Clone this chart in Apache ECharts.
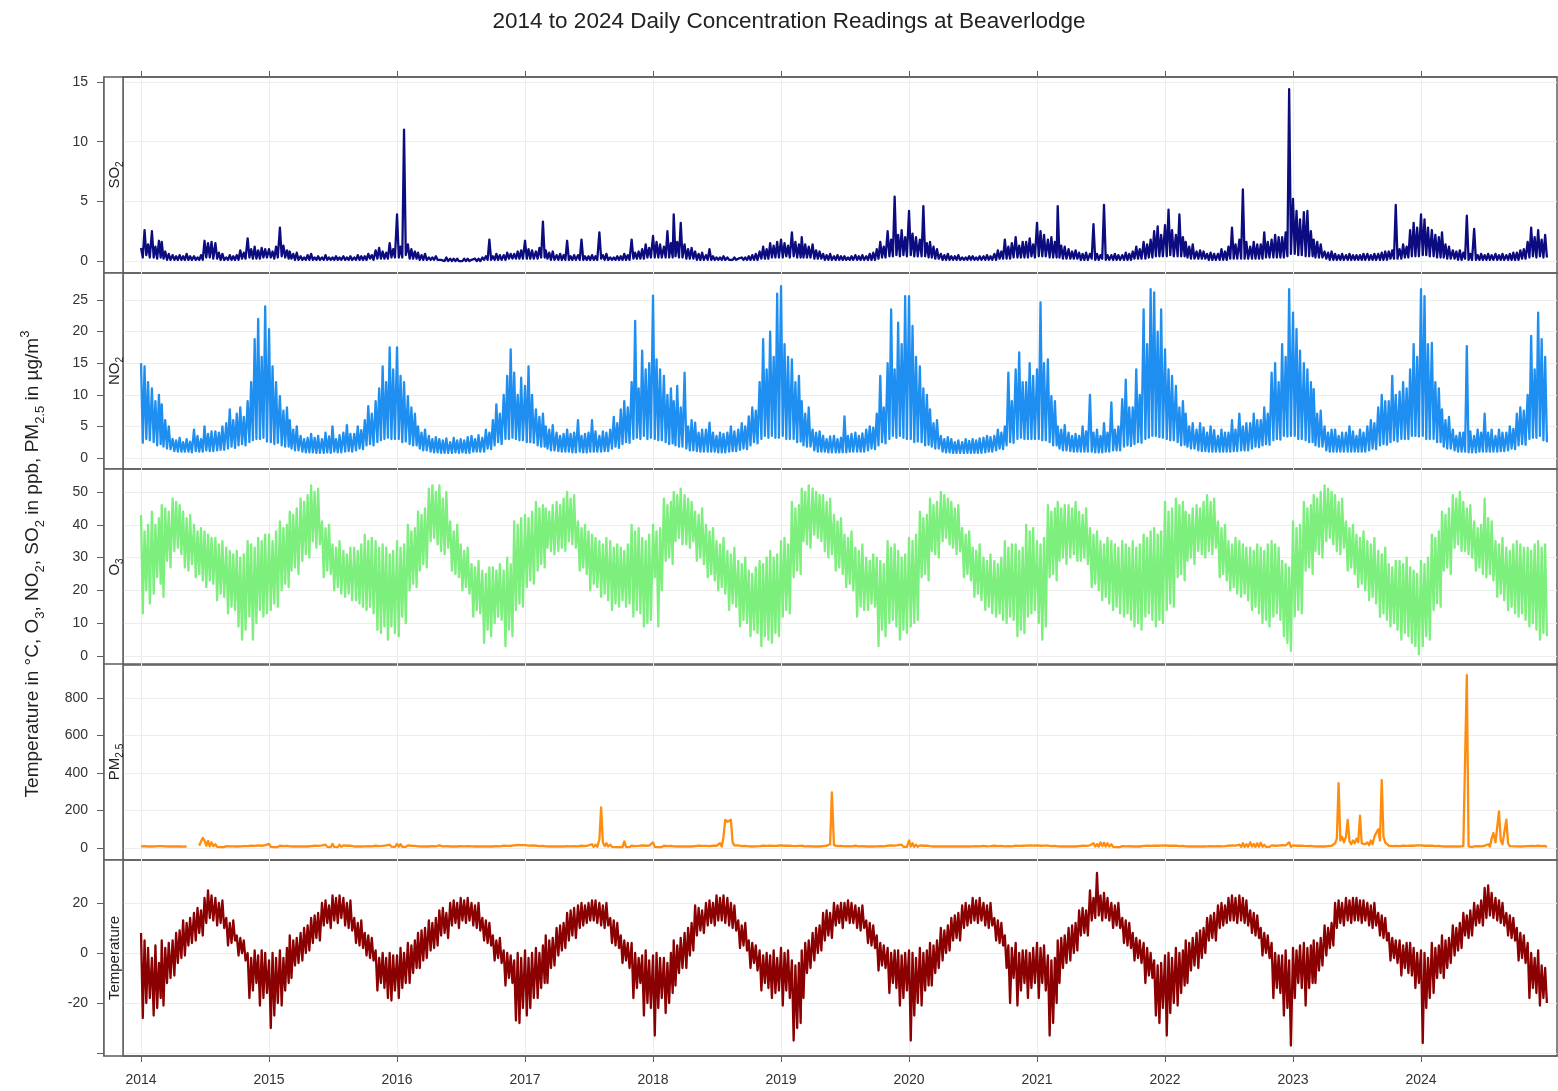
<!DOCTYPE html>
<html>
<head>
<meta charset="utf-8">
<title>Beaverlodge daily readings</title>
<script src="https://cdn.jsdelivr.net/npm/echarts@6/dist/echarts.min.js"></script>
<style>
  html, body { margin: 0; padding: 0; background: #ffffff; }
  #chart { width: 1558px; height: 1091px; }
</style>
</head>
<body>
<div id="chart"></div>
<script>
// Reading dates: six readings per month, 2014 through 2024
const years = [2014, 2015, 2016, 2017, 2018, 2019, 2020, 2021, 2022, 2023, 2024];
const readingDays = [1, 6, 11, 16, 21, 26];
const yearTickLabels = [2014, 2015, 2016, 2017, 2018, 2019, 2020, 2021, 2022, 2023, 2024];

// SO2 (ppb): one row per year, six readings per month
const so2 = [
  1.1,0.3,2.6,0.5,1.4,0.3, 2.5,0.3,1.2,0.2,1.7,0.3, 1.6,0.2,0.8,0.1,0.6,0.1, 0.5,0.1,0.4,0.1,0.5,0.1, 0.4,0.1,0.6,0.1,0.4,0.1, 0.4,0.1,0.3,0.1,0.5,0.1, 1.7,0.3,1.5,0.3,1.6,0.2, 1.5,0.2,0.7,0.1,0.6,0.1, 0.3,0.1,0.5,0.1,0.4,0.1, 0.5,0.1,0.9,0.2,0.7,0.2, 1.9,0.3,1.0,0.2,1.2,0.2, 0.9,0.2,1.1,0.3,1.0,0.3,
  1.0,0.3,0.8,0.2,1.2,0.3, 2.8,0.4,1.3,0.3,0.9,0.2, 0.8,0.2,0.6,0.1,0.7,0.1, 0.4,0.1,0.3,0.1,0.5,0.1, 0.6,0.1,0.3,0.1,0.4,0.1, 0.3,0.1,0.5,0.1,0.3,0.1, 0.3,0.1,0.4,0.1,0.3,0.1, 0.4,0.1,0.3,0.1,0.4,0.1, 0.3,0.1,0.5,0.1,0.4,0.1, 0.4,0.1,0.6,0.2,0.5,0.1, 0.9,0.2,1.1,0.2,0.8,0.2, 0.7,0.2,1.5,0.3,1.0,0.3,
  3.9,0.3,1.2,0.3,11.0,0.5, 1.4,0.2,1.0,0.2,0.8,0.2, 0.7,0.1,0.5,0.1,0.6,0.1, 0.3,0.1,0.3,0.1,0.4,0.1, 0.2,0.1,0.2,0.0,0.3,0.0, 0.2,0.0,0.2,0.0,0.2,0.0, 0.1,0.0,0.2,0.0,0.2,0.0, 0.1,0.0,0.2,0.0,0.2,0.0, 0.3,0.1,0.4,0.1,1.8,0.1, 0.4,0.1,0.6,0.1,0.5,0.1, 0.5,0.1,0.7,0.2,0.6,0.2, 0.6,0.2,0.8,0.2,0.9,0.2,
  1.7,0.2,1.0,0.2,0.9,0.2, 0.8,0.2,1.1,0.3,3.3,0.3, 0.9,0.2,0.7,0.1,0.8,0.1, 0.5,0.1,0.6,0.1,0.5,0.1, 1.7,0.1,0.4,0.1,0.5,0.1, 0.5,0.1,1.8,0.1,0.4,0.1, 0.4,0.1,0.5,0.1,0.4,0.1, 2.4,0.2,0.5,0.1,0.6,0.1, 0.3,0.1,0.3,0.1,0.4,0.1, 0.4,0.1,0.6,0.1,0.5,0.1, 1.8,0.2,0.7,0.2,0.8,0.2, 1.0,0.2,1.4,0.3,1.1,0.3,
  2.1,0.3,1.6,0.3,1.4,0.3, 1.2,0.3,2.5,0.3,1.5,0.3, 3.9,0.4,1.6,0.3,3.2,0.3, 1.4,0.2,1.0,0.2,1.1,0.2, 0.8,0.1,0.6,0.1,0.7,0.1, 0.5,0.1,1.0,0.1,0.4,0.1, 0.3,0.1,0.3,0.1,0.4,0.1, 0.3,0.1,0.2,0.1,0.3,0.1, 0.2,0.1,0.3,0.1,0.3,0.1, 0.4,0.1,0.5,0.1,0.6,0.1, 0.8,0.2,1.2,0.2,1.0,0.2, 1.5,0.3,1.3,0.3,1.6,0.3,
  1.8,0.3,1.5,0.4,1.3,0.3, 2.4,0.4,1.6,0.3,1.4,0.3, 2.0,0.3,1.4,0.3,1.2,0.3, 1.4,0.2,0.9,0.2,0.8,0.2, 0.6,0.1,0.5,0.1,0.6,0.1, 0.4,0.1,0.5,0.1,0.4,0.1, 0.4,0.1,0.3,0.1,0.4,0.1, 0.5,0.1,0.4,0.1,0.5,0.1, 0.4,0.1,0.6,0.1,0.7,0.1, 1.0,0.2,1.6,0.3,1.2,0.3, 2.5,0.4,1.8,0.4,5.4,0.5, 2.2,0.4,2.6,0.5,2.0,0.4,
  4.2,0.5,2.3,0.4,2.0,0.4, 1.8,0.4,4.6,0.4,1.5,0.3, 1.6,0.3,1.2,0.2,1.0,0.2, 0.6,0.1,0.5,0.1,0.6,0.1, 0.4,0.1,0.4,0.1,0.5,0.1, 0.3,0.1,0.3,0.1,0.4,0.1, 0.4,0.1,0.3,0.1,0.4,0.1, 0.4,0.1,0.5,0.1,0.4,0.1, 0.6,0.1,0.9,0.2,0.8,0.2, 1.8,0.2,1.2,0.2,1.5,0.3, 2.0,0.3,1.3,0.3,1.6,0.3, 1.6,0.3,1.9,0.4,1.4,0.3,
  3.2,0.4,2.5,0.4,2.2,0.4, 1.8,0.3,2.0,0.3,1.6,0.3, 4.6,0.3,1.3,0.2,1.2,0.2, 1.0,0.2,0.8,0.2,0.9,0.2, 0.7,0.1,0.6,0.1,0.7,0.1, 0.6,0.2,3.1,0.1,0.6,0.1, 0.5,0.2,4.7,0.1,0.5,0.1, 0.5,0.1,0.6,0.1,0.5,0.1, 0.5,0.1,0.7,0.1,0.6,0.1, 0.8,0.2,1.2,0.2,1.0,0.2, 1.6,0.2,1.4,0.3,1.8,0.3, 2.5,0.4,2.9,0.4,2.2,0.4,
  3.0,0.4,4.3,0.5,2.6,0.4, 2.2,0.4,3.9,0.4,2.0,0.4, 1.6,0.3,1.2,0.2,1.4,0.2, 0.8,0.2,0.9,0.2,0.8,0.2, 0.6,0.1,0.7,0.1,0.6,0.1, 0.6,0.1,1.0,0.1,0.8,0.1, 1.2,0.2,2.8,0.2,1.4,0.2, 1.8,0.2,6.0,0.2,1.6,0.2, 1.2,0.2,1.6,0.2,1.4,0.2, 1.4,0.2,2.4,0.3,1.6,0.3, 1.8,0.3,2.2,0.3,2.0,0.3, 2.0,0.3,2.4,0.4,14.4,0.6,
  5.2,0.6,4.2,0.5,3.5,0.5, 4.1,0.4,4.2,0.4,2.5,0.4, 1.8,0.3,1.6,0.3,1.4,0.3, 0.8,0.2,0.7,0.1,0.8,0.1, 0.6,0.1,0.5,0.1,0.6,0.1, 0.5,0.1,0.6,0.1,0.5,0.1, 0.5,0.1,0.5,0.1,0.6,0.1, 0.6,0.1,0.5,0.1,0.6,0.1, 0.6,0.1,0.7,0.1,0.8,0.1, 0.8,0.2,0.9,0.2,4.7,0.2, 1.0,0.2,1.4,0.3,1.2,0.3, 2.6,0.4,3.2,0.4,2.8,0.4,
  3.9,0.5,3.5,0.5,2.8,0.4, 2.6,0.4,2.2,0.3,2.0,0.3, 2.4,0.3,1.4,0.2,1.2,0.2, 0.9,0.2,0.8,0.1,0.9,0.1, 0.7,0.2,3.8,0.1,0.6,0.1, 2.7,0.1,0.5,0.1,0.6,0.1, 0.5,0.1,0.6,0.1,0.5,0.1, 0.6,0.1,0.5,0.1,0.6,0.1, 0.5,0.1,0.6,0.1,0.7,0.1, 0.7,0.1,0.9,0.2,1.0,0.2, 1.6,0.3,2.8,0.4,2.0,0.3, 2.6,0.4,1.8,0.3,2.2,0.3
];

// NO2 (ppb)
const no2 = [
  15.0,2.4,14.5,3.0,12.0,2.8, 11.0,2.5,9.0,2.0,10.0,2.2, 8.5,1.8,6.0,1.5,5.0,1.4, 3.0,1.1,2.8,1.0,3.2,1.0, 2.5,1.0,3.0,1.0,2.6,0.9, 4.5,1.1,3.5,1.0,3.0,1.0, 5.0,1.2,3.8,1.1,4.2,1.1, 4.2,1.2,4.0,1.3,5.0,1.3, 5.5,1.5,7.7,1.8,6.0,1.6, 7.0,2.0,8.0,2.2,6.5,2.0, 9.0,2.5,12.0,2.8,18.8,3.0, 22.0,3.0,16.0,3.2,24.0,2.6,
  20.4,2.5,14.5,2.2,12.0,2.4, 9.8,2.0,7.5,1.8,8.0,1.8, 6.0,1.5,4.5,1.2,5.0,1.2, 3.5,1.0,3.0,0.9,3.2,0.9, 3.8,0.9,3.2,0.8,3.5,0.8, 3.0,0.8,4.0,0.9,3.4,0.8, 5.0,1.0,3.0,0.9,3.6,0.9, 4.0,1.0,5.2,1.1,3.8,1.0, 3.8,1.2,5.0,1.5,4.4,1.4, 6.0,2.0,8.2,2.2,7.0,2.0, 9.0,2.5,11.0,2.8,14.5,3.0, 12.0,3.2,17.5,3.0,14.0,3.0,
  17.5,3.0,13.0,2.5,12.0,2.6, 9.8,2.2,8.0,2.0,7.0,2.0, 5.0,1.5,4.0,1.2,4.5,1.2, 3.5,1.0,3.0,0.9,3.3,0.9, 3.0,0.8,2.8,0.8,3.1,0.8, 2.5,0.8,3.2,0.9,2.8,0.8, 3.0,0.9,2.8,0.8,3.3,0.8, 3.5,1.0,3.0,1.0,3.6,1.0, 3.2,1.0,4.5,1.5,4.0,1.4, 6.0,2.0,8.5,2.5,7.0,2.2, 10.0,3.0,13.0,3.0,17.2,3.2, 13.5,3.0,10.0,2.8,12.7,2.8,
  11.4,2.5,14.5,2.5,10.0,2.4, 7.7,2.0,6.5,1.8,7.0,1.8, 5.0,1.5,4.5,1.2,5.2,1.2, 4.0,1.1,3.5,1.0,3.8,1.0, 4.5,1.0,3.8,0.9,4.0,0.9, 6.0,1.0,3.5,0.9,3.8,0.9, 4.0,1.0,6.0,1.0,4.2,1.0, 3.5,1.0,4.2,1.1,4.0,1.1, 4.5,1.5,6.5,1.8,5.5,1.6, 7.7,2.2,9.0,2.5,8.0,2.4, 12.0,3.0,21.7,3.2,11.0,3.0, 17.0,3.5,14.0,3.0,15.0,3.2,
  25.7,3.0,15.6,2.8,14.0,2.8, 13.0,2.5,10.0,2.2,11.0,2.3, 9.0,2.0,11.4,1.8,8.0,1.8, 13.5,1.5,5.0,1.2,6.0,1.2, 5.6,1.1,4.0,1.0,4.5,1.0, 4.5,1.0,5.6,1.0,4.0,1.0, 3.5,0.9,4.0,0.9,3.8,0.9, 4.0,1.0,5.0,1.1,4.2,1.1, 4.5,1.3,5.5,1.5,5.0,1.4, 6.6,2.0,8.0,2.5,7.5,2.3, 12.0,3.0,18.8,3.5,14.0,3.2, 20.0,3.5,16.0,3.2,26.0,3.2,
  27.2,3.5,18.0,3.0,16.0,3.0, 15.6,3.0,12.0,2.5,13.0,2.6, 9.0,2.0,7.0,1.8,8.0,1.8, 4.5,1.2,4.0,1.0,4.2,1.0, 3.5,1.0,3.0,0.9,3.4,0.9, 3.5,0.9,3.0,0.9,3.2,0.9, 6.6,0.9,3.5,1.0,3.8,1.0, 4.0,1.0,3.5,1.0,3.9,1.0, 4.5,1.2,5.0,1.5,4.8,1.4, 7.0,2.0,13.0,2.5,8.0,2.3, 15.0,3.0,23.5,3.5,14.0,3.2, 21.4,3.5,18.0,3.2,25.6,3.0,
  25.6,3.0,20.9,2.5,16.0,2.6, 14.5,2.5,11.0,2.0,10.0,2.1, 7.7,1.8,5.5,1.5,6.0,1.5, 3.5,1.0,3.0,0.9,3.3,0.9, 3.0,0.8,2.5,0.8,2.8,0.8, 2.5,0.8,3.0,0.8,2.7,0.8, 3.0,0.8,2.8,0.8,3.1,0.8, 3.2,0.9,3.5,1.0,3.3,1.0, 3.5,1.2,4.5,1.5,4.0,1.4, 5.0,2.0,13.5,2.5,9.0,2.4, 14.0,3.0,16.7,3.2,12.0,3.0, 12.0,3.0,15.0,3.0,13.0,3.0,
  14.0,3.0,24.6,2.8,15.0,2.8, 15.6,2.5,9.8,2.0,9.0,2.0, 5.0,1.5,4.5,1.2,5.2,1.2, 4.0,1.1,3.5,1.0,3.8,1.0, 3.5,1.0,5.0,1.0,4.2,1.0, 10.0,1.0,4.0,0.9,4.5,0.9, 3.5,0.9,5.5,1.0,4.0,1.0, 8.8,1.2,4.5,1.2,5.0,1.2, 9.3,1.8,12.4,2.0,8.0,1.9, 8.0,2.2,14.0,2.5,10.0,2.4, 23.5,3.0,18.0,3.2,26.7,3.5, 26.2,3.5,20.0,3.3,23.5,3.2,
  17.2,3.0,14.0,2.8,13.0,2.8, 11.4,2.5,8.0,2.0,9.0,2.1, 7.0,1.8,5.0,1.5,5.5,1.5, 4.5,1.2,5.5,1.1,4.8,1.1, 4.0,1.0,5.0,1.0,4.4,1.0, 3.5,1.0,4.5,1.0,4.0,1.0, 4.0,1.0,6.0,1.1,4.5,1.1, 7.0,1.2,5.0,1.2,5.5,1.2, 5.5,1.5,7.0,1.8,6.0,1.7, 6.0,2.0,8.0,2.2,7.0,2.1, 13.5,2.8,15.0,3.0,12.0,2.9, 18.0,3.5,16.0,3.4,26.7,3.5,
  23.0,3.5,20.4,3.0,17.0,3.0, 15.0,2.8,14.0,2.5,12.0,2.5, 10.9,2.0,7.0,1.8,7.5,1.8, 5.0,1.2,4.0,1.0,4.5,1.0, 4.5,1.0,3.5,1.0,4.0,1.0, 4.0,1.0,5.0,1.0,4.2,1.0, 3.5,1.0,4.5,1.0,4.0,1.0, 5.0,1.2,6.0,1.5,5.5,1.4, 8.0,2.0,10.0,2.2,9.0,2.1, 9.0,2.5,13.0,2.8,10.0,2.6, 10.5,3.0,12.0,3.0,11.0,3.0, 14.0,3.5,18.0,3.5,16.0,3.4,
  26.7,3.5,25.6,3.0,18.0,3.0, 18.2,3.0,12.0,2.5,11.0,2.5, 7.7,1.8,6.0,1.5,6.5,1.5, 4.5,1.2,3.5,1.0,4.0,1.0, 4.0,1.0,17.7,0.9,4.2,0.9, 3.5,0.9,4.5,1.0,4.0,1.0, 7.0,1.0,4.0,1.0,4.5,1.0, 3.5,1.0,4.5,1.1,4.0,1.1, 4.0,1.2,5.0,1.5,4.6,1.4, 7.0,2.0,8.0,2.2,7.5,2.1, 10.0,3.0,19.3,3.2,14.0,3.2, 23.0,3.5,18.8,2.8,16.0,2.5
];

// O3 (ppb)
const o3 = [
  43,13,38,20,40,16, 44,19,40,24,42,22, 46,18,45,29,44,27, 48,32,47,33,46,31, 44,27,42,26,43,28, 40,24,38,25,39,23, 38,21,37,23,36,22, 36,17,34,19,35,18, 33,13,32,15,31,14, 32,9,30,5,31,8, 35,12,34,5,33,10, 36,14,35,12,37,13,
  37,14,35,16,38,15, 41,20,39,22,40,21, 44,26,43,27,45,25, 48,29,47,31,49,30, 52,35,50,33,51,34, 41,24,39,26,40,25, 34,20,33,21,35,19, 32,18,31,19,33,17, 33,17,32,16,34,15, 37,14,35,15,36,13, 35,8,33,7,34,9, 33,5,31,9,32,7,
  35,6,33,12,34,10, 40,20,38,22,39,21, 44,26,43,28,45,27, 51,35,52,36,50,34, 52,32,48,31,50,33, 41,26,38,25,40,24, 34,20,32,21,33,19, 28,12,27,14,29,13, 26,4,25,8,27,6, 27,10,26,12,28,11, 26,3,30,8,28,6, 41,14,40,16,42,15,
  43,21,42,23,44,22, 47,26,45,28,46,27, 45,33,44,32,46,31, 47,32,46,33,48,32, 50,35,48,34,49,33, 41,26,39,27,40,25, 38,20,37,22,36,21, 35,18,34,19,36,17, 35,14,33,16,34,15, 33,17,32,15,34,16, 40,12,38,14,39,13, 36,9,35,10,37,11,
  40,24,38,9,39,20, 48,29,46,30,47,28, 50,35,49,36,51,34, 49,34,48,33,47,35, 44,29,43,30,45,28, 40,24,38,25,39,23, 35,20,34,21,36,19, 32,14,31,16,33,15, 29,9,28,11,30,10, 26,6,25,8,27,7, 29,3,28,6,30,5, 32,4,30,7,31,6,
  35,12,36,14,34,13, 47,24,45,26,46,25, 51,35,50,34,52,33, 51,37,50,36,49,35, 49,32,47,30,48,31, 43,26,41,27,42,25, 37,21,36,22,38,20, 33,12,32,15,34,14, 30,14,29,16,31,15, 30,3,29,8,28,6, 35,10,33,11,34,9, 32,5,30,8,31,7,
  36,9,35,10,37,11, 44,24,42,25,43,23, 48,32,46,31,47,30, 50,35,49,36,48,34, 47,33,45,31,46,32, 39,24,37,25,38,23, 33,18,32,19,34,17, 30,14,29,15,31,13, 29,12,28,13,30,11, 35,10,33,12,34,11, 34,6,32,8,33,7, 40,12,38,13,39,14,
  35,10,34,5,36,9, 46,24,44,25,45,23, 47,29,45,30,46,28, 46,30,45,31,47,29, 44,29,43,30,45,28, 39,21,37,22,38,20, 35,17,34,18,36,16, 35,14,34,15,33,13, 35,12,34,13,33,11, 35,9,33,10,34,8, 37,12,36,13,38,11, 39,9,37,11,38,10,
  47,14,44,16,45,15, 48,24,46,25,47,23, 44,29,43,30,45,28, 46,32,45,31,47,30, 49,32,47,31,48,33, 41,24,39,25,40,23, 35,20,34,21,36,19, 35,18,34,19,33,17, 33,14,32,15,34,13, 33,10,32,11,34,9, 35,12,34,13,33,11, 29,6,28,4,27,1.5,
  41,12,39,14,40,13, 47,26,45,27,46,25, 49,32,48,31,50,30, 52,35,51,36,50,34, 49,32,47,31,48,33, 41,26,39,27,40,25, 37,21,36,22,38,20, 35,17,34,18,36,16, 32,12,31,13,33,11, 28,9,27,10,29,8, 29,5,28,7,30,6, 27,4,26,3,25,0.5,
  29,3,28,6,30,5, 37,14,36,16,38,15, 44,26,43,27,45,25, 49,33,48,34,50,32, 47,32,45,31,46,30, 41,26,39,27,40,25, 48,24,42,25,41,23, 35,18,34,19,36,17, 33,14,32,15,34,13, 35,12,34,13,33,11, 33,9,32,10,34,8, 35,5,33,7,34,6
];

// PM2.5 (µg/m³); null marks days without readings
const pm25 = [
  9,5,10,6,8,5, 8,4,9,5,10,5, 10,5,9,5,8,4, 8,4,9,5,8,4, 7,4,8,null,null,null, null,null,null,12,35,54, 40,12,38,9,30,10, 20,6,14,5,12,5, 10,5,9,4,9,5, 8,4,9,5,10,5, 10,5,12,6,11,5, 14,6,12,5,15,6,
  22,6,14,5,12,5, 12,5,10,4,11,5, 9,4,8,4,9,4, 8,3,9,4,8,4, 10,4,12,5,11,4, 14,5,18,6,15,5, 22,6,16,5,18,6, 14,5,12,4,13,5, 8,4,9,4,8,4, 9,4,10,5,9,4, 12,5,10,5,11,5, 14,6,18,7,15,6,
  22,7,20,6,16,6, 14,5,12,5,11,5, 9,4,8,4,9,4, 8,3,10,4,9,4, 14,4,9,4,10,4, 8,3,9,4,8,4, 10,4,9,4,10,4, 9,4,8,3,9,4, 8,3,9,4,8,4, 8,4,10,5,9,4, 12,5,11,5,12,5, 14,6,16,6,15,6,
  15,6,13,5,14,6, 12,5,10,4,11,5, 9,4,8,4,9,4, 8,3,9,4,8,4, 10,4,9,4,10,4, 9,4,12,5,10,4, 14,5,20,6,18,6, 45,216,30,10,25,8, 18,6,14,5,12,5, 12,5,35,6,14,5, 12,5,10,5,11,5, 14,6,12,5,13,5,
  30,6,14,5,13,5, 12,5,10,4,11,4, 9,4,8,4,9,4, 8,3,9,4,8,4, 10,4,12,5,11,4, 11,4,10,4,12,5, 12,5,25,8,60,150, 140,148,150,30,14,5, 14,5,10,4,11,4, 9,4,8,4,9,4, 10,5,12,5,11,5, 13,5,11,5,12,5,
  14,6,12,5,13,5, 11,5,10,4,11,4, 12,5,9,4,10,4, 8,4,9,4,8,4, 10,4,12,5,20,297, 15,5,10,4,11,4, 9,4,10,4,9,4, 12,5,9,4,10,4, 8,4,9,4,8,4, 9,4,10,5,9,4, 12,5,14,6,13,5, 15,6,18,6,16,6,
  40,8,25,6,18,6, 14,5,12,5,13,5, 10,4,8,4,9,4, 8,3,9,4,8,4, 9,4,8,3,9,4, 8,3,9,4,8,4, 9,4,10,4,9,4, 11,4,9,4,10,4, 12,5,10,4,11,4, 9,4,10,5,9,4, 12,5,11,5,12,5, 13,5,14,6,13,5,
  14,6,12,5,13,5, 13,5,10,4,11,4, 9,4,8,4,9,4, 8,3,9,4,8,4, 10,4,12,5,11,4, 14,5,25,8,20,7, 30,10,28,8,25,8, 20,6,14,5,15,5, 10,4,9,4,10,4, 8,4,9,4,8,4, 11,5,12,5,11,5, 13,5,12,5,13,5,
  14,6,12,5,13,5, 12,5,10,4,11,4, 9,4,8,4,9,4, 8,3,9,4,8,4, 9,4,10,4,9,4, 10,4,9,4,10,4, 12,5,14,5,13,5, 18,6,25,6,20,6, 30,8,22,6,25,7, 28,7,18,6,16,6, 14,5,12,5,13,5, 15,6,14,6,30,6,
  14,6,12,5,13,5, 11,5,10,4,11,4, 9,4,8,4,9,4, 8,4,10,5,12,6, 25,50,346,40,60,30, 60,150,35,20,40,25, 50,30,172,25,35,20, 30,15,40,20,60,80, 100,40,362,60,30,20, 12,6,10,5,11,5, 10,5,12,5,11,5, 13,5,12,5,14,6,
  14,6,12,5,13,5, 12,5,10,4,11,4, 9,4,8,4,9,4, 8,3,9,4,8,4, 10,4,921,8,9,4, 9,4,10,4,9,4, 12,5,20,8,50,80, 30,20,195,40,20,15, 151,25,10,5,9,4, 9,4,8,4,9,4, 10,5,11,5,10,5, 12,5,10,5,11,5
];

// Temperature (°C)
const temperature = [
  8,-26,5,-20,2,-18, -2,-25,3,-22,-4,-18, 5,-21,2,-12,4,-10, 5,-9,8,-4,9,-2, 13,-1,12,3,14,4, 16,5,18,8,17,7, 22,12,25,14,23,13, 22,11,20,12,21,10, 14,3,12,4,13,5, 7,-1,6,0,5,-3, 0,-18,-2,-15,1,-12, -1,-21,1,-18,0,-16,
  -3,-30,0,-25,-2,-20, 1,-21,-2,-15,2,-12, 7,-10,5,-5,6,-4, 8,-3,10,0,11,1, 14,4,15,6,16,5, 20,11,21,12,19,10, 23,13,22,12,23,14, 22,11,20,10,21,9, 14,4,12,3,13,2, 8,-1,7,-2,6,-3, 1,-15,-2,-12,0,-14, -2,-18,0,-19,-1,-15,
  -1,-18,2,-14,0,-12, 4,-12,3,-8,5,-6, 8,-6,9,-3,10,-2, 13,1,12,2,14,3, 17,7,18,8,16,6, 20,11,21,12,20,10, 22,13,21,12,22,13, 20,11,19,10,20,9, 14,5,13,4,12,3, 7,-3,5,-2,6,-4, 1,-13,0,-10,-1,-12, -3,-27,0,-28,-2,-22,
  1,-25,-2,-22,0,-18, 2,-18,0,-14,3,-12, 7,-12,5,-6,6,-5, 10,-1,11,1,12,2, 16,5,17,7,18,6, 19,10,20,11,19,12, 20,13,21,13,21,12, 20,11,19,10,20,11, 14,4,13,3,12,2, 7,-4,5,-3,4,-6, 4,-18,0,-14,-2,-12, -1,-25,1,-20,-3,-22,
  -1,-33,0,-22,-2,-18, -2,-24,-4,-20,0,-16, 5,-13,3,-8,6,-6, 8,-6,10,-1,12,1, 19,7,18,9,17,8, 20,11,21,12,20,11, 23,13,22,13,23,12, 22,11,20,10,19,9, 13,2,11,3,12,1, 5,-6,4,-4,3,-7, 1,-15,-1,-12,0,-14, -1,-18,1,-16,-2,-15,
  2,-21,0,-15,1,-18, -3,-35,-5,-30,-4,-28, 1,-18,4,-8,5,-6, 8,-3,10,0,11,1, 16,5,17,7,16,6, 20,11,19,12,20,10, 20,13,21,12,20,12, 19,10,18,9,19,10, 13,4,12,3,11,2, 7,-7,4,-5,3,-6, 2,-16,0,-12,1,-14, 1,-21,-1,-18,0,-15,
  1,-35,0,-25,-2,-20, 2,-21,0,-15,1,-13, 4,-13,3,-8,5,-6, 10,-3,9,0,11,1, 14,5,15,6,16,5, 19,10,20,11,19,12, 22,13,21,12,22,13, 20,11,19,10,20,11, 14,5,13,4,12,3, 7,-6,3,-20,2,-10, 4,-21,0,-15,1,-12, 1,-18,0,-14,2,-12,
  4,-18,2,-12,3,-15, -1,-33,-3,-28,-2,-20, 5,-12,6,-6,7,-4, 10,-3,11,0,12,1, 17,7,18,8,17,7, 25,13,22,14,32,15, 23,13,24,14,22,13, 20,10,19,11,20,10, 14,4,13,3,12,2, 8,-3,6,-2,5,-4, 4,-12,2,-9,0,-10, -3,-25,-5,-28,-4,-22,
  -1,-33,0,-24,-2,-20, 2,-21,0,-16,1,-13, 5,-12,4,-7,6,-5, 8,-6,9,-2,10,0, 14,5,15,6,16,5, 19,10,20,11,19,12, 22,13,23,13,22,12, 23,13,22,12,21,11, 17,8,16,7,15,6, 10,-1,8,0,7,-2, 4,-18,0,-14,-1,-16, -1,-25,1,-22,-3,-37,
  2,-18,1,-12,3,-14, 4,-21,2,-14,3,-12, 5,-12,4,-7,6,-5, 11,-1,10,2,12,3, 20,10,21,12,20,11, 22,13,21,12,22,13, 22,13,21,12,21,13, 20,11,19,10,20,11, 16,7,15,6,14,5, 8,-3,6,-2,5,-4, 5,-9,3,-6,4,-8, 4,-9,2,-14,0,-12,
  1,-36,0,-22,-2,-18, 4,-16,2,-10,3,-8, 7,-10,5,-6,6,-4, 11,-1,10,1,12,2, 16,7,15,6,17,7, 20,11,19,12,21,11, 26,14,27,15,24,14, 22,13,21,12,20,11, 16,7,15,6,14,5, 10,-3,8,-2,7,-4, 4,-18,0,-14,-2,-16, 1,-21,-5,-18,-6,-20
];

// Reading dates, placed on the x axis as fractional years
function fractionalYear(y, m, d) {
  const start = Date.UTC(y, 0, 1), next = Date.UTC(y + 1, 0, 1);
  return y + (Date.UTC(y, m - 1, d) - start) / (next - start);
}
const readingX = [];
years.forEach(function (y) {
  for (let m = 1; m <= 12; m++) {
    readingDays.forEach(function (d) { readingX.push(fractionalYear(y, m, d)); });
  }
});

const X_MIN = 2013.859;
const X_MAX = 2025.0625;

const FONT = '"Liberation Sans", Arial, Helvetica, sans-serif';
const FRAME = '#5e5e5e';
const GRIDLINE = '#ededed';

const richStrip = {
  s: { fontSize: 10, verticalAlign: 'bottom', fontFamily: FONT, fill: '#222', padding: [0, 0, -3, 0] }
};

// One panel per measured quantity
const panels = [
  { label: 'SO{s|2}', data: so2, color: '#0c0c80', min: -1.0, max: 15.42, tickValues: [0, 5, 10, 15], labelValues: [0, 5, 10, 15] },
  { label: 'NO{s|2}', data: no2, color: '#1f8ef1', min: -1.74, max: 29.27, tickValues: [0, 5, 10, 15, 20, 25], labelValues: [0, 5, 10, 15, 20, 25] },
  { label: 'O{s|3}', data: o3, color: '#7cef7c', min: -2.74, max: 57.0, tickValues: [0, 10, 20, 30, 40, 50], labelValues: [0, 10, 20, 30, 40, 50] },
  { label: 'PM{s|2.5}', data: pm25, color: '#ff8c0c', min: -64, max: 981, tickValues: [0, 200, 400, 600, 800], labelValues: [0, 200, 400, 600, 800] },
  { label: 'Temperature', data: temperature, color: '#8b0000', min: -41.2, max: 37.2, tickValues: [-40, -20, 0, 20], labelValues: [-20, 0, 20] }
];

const PLOT_LEFT = 123;
const STRIP_LEFT = 104;
const PLOT_RIGHT = 1557;
const panelTops = [77, 273, 469, 664, 860];
const PANEL_H = 196;

const grids = [], xAxes = [], yAxes = [], series = [], graphics = [];

panels.forEach(function (p, i) {
  const top = panelTops[i];
  const isFirst = i === 0, isLast = i === panels.length - 1;
  grids.push({
    left: PLOT_LEFT, top: top, width: PLOT_RIGHT - PLOT_LEFT, height: PANEL_H,
    show: true, borderColor: FRAME, borderWidth: 1.5, backgroundColor: 'transparent'
  });
  xAxes.push({
    type: 'value', gridIndex: i, min: X_MIN, max: X_MAX,
    position: isFirst ? 'top' : 'bottom',
    axisLine: { show: isFirst || isLast, onZero: false, lineStyle: { color: FRAME, width: 1.5 } },
    axisTick: { show: isFirst || isLast, customValues: yearTickLabels, length: 6, inside: false, lineStyle: { color: FRAME } },
    axisLabel: {
      show: isLast, customValues: yearTickLabels, margin: 17, fontSize: 14, color: '#333', fontFamily: FONT,
      formatter: function (v) { return String(Math.round(v)); }
    },
    splitLine: { show: true, lineStyle: { color: GRIDLINE, width: 1 } }
  });
  yAxes.push({
    type: 'value', gridIndex: i, min: p.min, max: p.max, offset: PLOT_LEFT - STRIP_LEFT,
    axisLine: { show: true, onZero: false, lineStyle: { color: FRAME, width: 1.5 } },
    axisTick: { show: true, customValues: p.tickValues, length: 7, lineStyle: { color: FRAME } },
    axisLabel: { customValues: p.labelValues, margin: 16, fontSize: 14, color: '#333', fontFamily: FONT },
    splitLine: { show: true, lineStyle: { color: GRIDLINE, width: 1 } }
  });
  series.push({
    type: 'line', xAxisIndex: i, yAxisIndex: i,
    data: readingX.map(function (x, k) { return [x, p.data[k]]; }),
    showSymbol: false, symbol: 'none', connectNulls: false, silent: true,
    lineStyle: { color: p.color, width: 2.3, join: 'round' }, itemStyle: { color: p.color },
    clip: true
  });
  // strip box with the quantity name
  graphics.push({
    type: 'rect', silent: true, z: 10,
    shape: { x: STRIP_LEFT, y: top, width: PLOT_LEFT - STRIP_LEFT, height: PANEL_H },
    style: { fill: '#ffffff', stroke: FRAME, lineWidth: 1.5 }
  });
  graphics.push({
    type: 'text', silent: true, z: 11,
    x: (STRIP_LEFT + PLOT_LEFT) / 2 + 1, y: top + PANEL_H / 2, rotation: Math.PI / 2,
    style: {
      text: p.label, rich: richStrip, fontSize: 15, fontFamily: FONT, fill: '#222',
      align: 'center', verticalAlign: 'middle'
    }
  });
});

// shared y-axis title
graphics.push({
  type: 'text', silent: true, z: 11,
  x: 33, y: 564, rotation: Math.PI / 2,
  style: {
    text: 'Temperature in °C, O{s|3}, NO{s|2}, SO{s|2} in ppb, PM{s|2.5} in µg/m{u|3}',
    rich: {
      s: { fontSize: 13, verticalAlign: 'bottom', fontFamily: FONT, fill: '#222', padding: [0, 0, -4, 0] },
      u: { fontSize: 13, verticalAlign: 'top', fontFamily: FONT, fill: '#222', padding: [-5, 0, 0, 0] }
    },
    fontSize: 19, fontFamily: FONT, fill: '#222', align: 'center', verticalAlign: 'middle'
  }
});

const chart = echarts.init(document.getElementById('chart'), null, { renderer: 'canvas' });
chart.setOption({
  animation: false,
  backgroundColor: '#ffffff',
  title: {
    text: '2014 to 2024 Daily Concentration Readings at Beaverlodge',
    left: 784, top: 5, textAlign: 'center',
    textStyle: { fontSize: 22.5, fontWeight: 'normal', color: '#222', fontFamily: FONT }
  },
  grid: grids,
  xAxis: xAxes,
  yAxis: yAxes,
  series: series,
  graphic: graphics
});
</script>
</body>
</html>
